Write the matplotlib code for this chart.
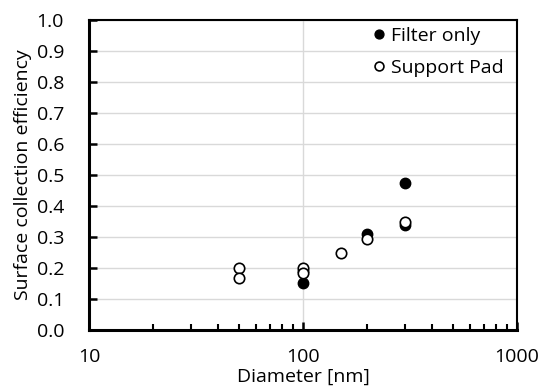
import numpy as np
import matplotlib
matplotlib.use("Agg")
import matplotlib.pyplot as plt
from matplotlib.ticker import FixedLocator, LogLocator, NullFormatter

plt.rcParams['font.family'] = ['Open Sans', 'DejaVu Sans']

# data
filter_d = [100, 200, 300, 300, 100]
filter_eff = [0.153, 0.310, 0.473, 0.339, 0.19]
pad_d = [50, 50, 100, 100, 150, 200, 300]
pad_eff = [0.199, 0.167, 0.199, 0.185, 0.249, 0.294, 0.349]

fig = plt.figure(figsize=(5.41, 3.91), dpi=100)
ax = fig.add_axes([89 / 541, 1 - 330 / 391, 428 / 541, 310 / 391])

ax.plot(filter_d, filter_eff, 'o', color='black', markersize=7.5,
        markeredgewidth=1, label='Filter only', zorder=3)
ax.plot(pad_d, pad_eff, 'o', markerfacecolor='white', markeredgecolor='black',
        markersize=7.5, markeredgewidth=1.2, label='Support Pad', zorder=4)

ax.set_xscale('log')
ax.set_xlim(10, 1000)
ax.set_ylim(0, 1.0)
ax.yaxis.set_major_locator(FixedLocator(np.arange(0, 1.01, 0.1)))
ax.yaxis.set_major_formatter(plt.FuncFormatter(lambda v, p: f"{v:.1f}"))
ax.xaxis.set_major_locator(FixedLocator([10, 100, 1000]))
ax.xaxis.set_major_formatter(plt.FuncFormatter(lambda v, p: f"{v:g}"))
ax.xaxis.set_minor_locator(LogLocator(base=10, subs=np.arange(2, 10)))
ax.xaxis.set_minor_formatter(NullFormatter())

ax.grid(True, which='major', color='#d9d9d9', linewidth=1)
ax.set_axisbelow(True)
ax.tick_params(axis='both', which='major', direction='in', length=6, width=1.8,
               labelsize=14)
ax.tick_params(axis='x', which='major', pad=13)
ax.tick_params(axis='y', which='major', pad=18)
ax.tick_params(axis='x', which='minor', direction='in', length=4.5, width=1.5)
for s in ax.spines.values():
    s.set_linewidth(1.5)
ax.spines['left'].set_linewidth(2.2)
ax.spines['bottom'].set_linewidth(2.2)

ax.set_xlabel('Diameter [nm]', fontsize=14, labelpad=1)
ax.set_ylabel('Surface collection efficiency', fontsize=14, labelpad=3)

ax.legend(loc='upper right', bbox_to_anchor=(0.97, 0.978), frameon=False,
          fontsize=14, handletextpad=0.15, markerscale=0.85, borderaxespad=0,
          borderpad=0, labelspacing=0.72, handlelength=1.0)

fig.savefig('out.png', dpi=100)
